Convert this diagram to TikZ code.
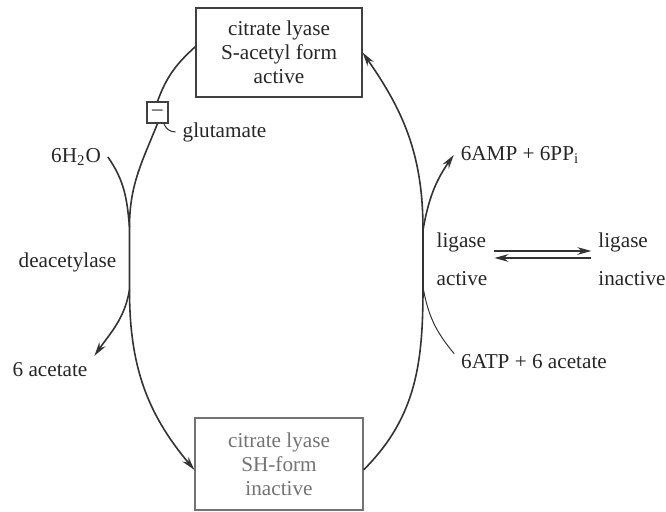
\documentclass[tikz,border=0pt]{standalone}
\usepackage{fontspec}
\setmainfont{Liberation Serif}
\usetikzlibrary{arrows.meta}

\begin{document}
\begin{tikzpicture}[x=5pt, y=5pt,
    >={Stealth[length=7pt, width=3.8pt]},
    every node/.style={font=\fontsize{10.6}{12}\selectfont, text=black!85},
    form/.style={draw=black!75, line width=0.6pt, align=center, inner sep=0pt},
    flux/.style={draw=black!80, line width=0.8pt},
    side/.style={draw=black!80, line width=0.5pt}]
      \useasboundingbox (0, 0) rectangle (66.6, 51.2);

      % the two forms of the enzyme
      \node[form, minimum width=83pt, minimum height=44.5pt] (top) at (27.9, 45.95)
        {citrate lyase\\S-acetyl form\\active};
      \node[form, draw=black!55, text=black!55, minimum width=84pt, minimum height=46pt] (bot) at (27.9, 4.8)
        {citrate lyase\\SH-form\\inactive};
      \node[form, minimum size=10.5pt] (inh) at (15.75, 39.95) {\textendash};

      % side labels
      \node (glu) at (22.45, 38.0) {glutamate};
      \node (water) at (7.6, 35.5) {6H\textsubscript{2}O};
      \node (deac) at (6.75, 25.0) {deacetylase};
      \node (acet) at (5.0, 14.2) {6 acetate};
      \node (amp) at (52.0, 35.7) {6AMP + 6PP\textsubscript{i}};
      \node (atp) at (53.4, 15.0) {6ATP + 6 acetate};
      \node[align=left, font=\fontsize{10.6}{19}\selectfont] (liga) at (46.2, 25.3) {ligase\\active};
      \node[align=left, font=\fontsize{10.6}{19}\selectfont] (ligi) at (63.2, 25.3) {ligase\\inactive};

      \coordinate (mrg) at (12.95, 28.5);
      \coordinate (spl) at (12.95, 22.2);
      \coordinate (ligtop) at (42.3, 28.2);
      \coordinate (ligbot) at (42.3, 22.5);

      % deacetylation, left
      \draw[flux] (top.176) to[out=-138, in=70] (inh.north);
      \draw[flux] (inh.south) to[out=-112, in=90] (mrg) -- (spl);
      \draw[flux, ->] (spl) to[out=-90, in=130] (bot.184);
      \draw[flux] (water.east) to[out=-55, in=95] (mrg);
      \draw[flux, ->] (spl) to[out=-100, in=55] (acet.north east);
      \draw[side] (inh.-60) to[out=-70, in=180] (glu.west);

      % acetylation, right
      \draw[flux] (bot.-4) to[out=45, in=-90] (ligbot) -- (ligtop);
      \draw[flux, ->] (ligtop) to[out=90, in=-55] (top.east);
      \draw[flux, ->] (ligtop) to[out=80, in=235] (amp.west);
      \draw[side] (ligbot) to[out=-80, in=130] (atp.174);

      \draw[flux, ->] ([yshift=4pt]liga.east) -- ([yshift=4pt]ligi.west);
      \draw[flux, <-] ([yshift=0.5pt]liga.east) -- ([yshift=0.5pt]ligi.west);
    \end{tikzpicture}
\end{document}
